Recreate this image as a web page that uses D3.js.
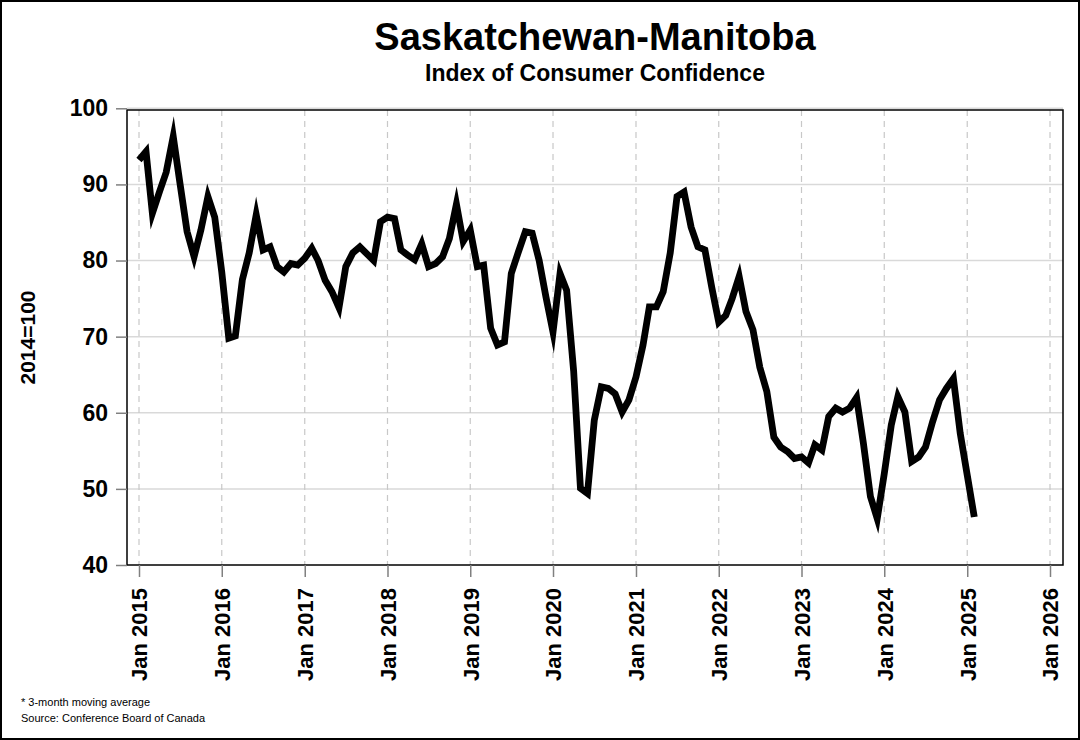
<!DOCTYPE html>
<html>
<head>
<meta charset="utf-8">
<script src="https://cdn.jsdelivr.net/npm/d3@7"></script>
<style>
html,body{margin:0;padding:0;background:#fff;}
svg{display:block;font-family:"Liberation Sans",Arial,sans-serif;}
</style>
</head>
<body>
<svg id="chart" width="1080" height="740"></svg>
<script>
// ---- data ----
const title = "Saskatchewan-Manitoba";
const subtitle = "Index of Consumer Confidence";
const yLabel = "2014=100";
const footnotes = ["* 3-month moving average", "Source: Conference Board of Canada"];
const firstMonth = "2015-01";
const values = [
  93.2, 94.3, 86.2, 89.0, 91.6, 96.3, 90.1, 83.8, 80.5, 84.0, 88.4, 85.7,
  78.5, 69.8, 70.1, 77.5, 81.0, 86.0, 81.4, 81.8, 79.2, 78.5, 79.6, 79.4,
  80.3, 81.6, 80.0, 77.4, 75.9, 73.8, 79.2, 81.0, 81.8, 80.9, 80.0, 85.1,
  85.7, 85.5, 81.4, 80.7, 80.1, 82.2, 79.2, 79.6, 80.5, 82.9, 87.4, 82.5,
  84.0, 79.2, 79.4, 71.1, 68.9, 69.3, 78.3, 81.1, 83.8, 83.6, 80.0, 75.2,
  70.6, 78.3, 76.1, 65.5, 50.1, 49.4, 59.0, 63.4, 63.2, 62.5, 60.1, 61.7,
  64.7, 68.9, 73.9, 73.9, 75.9, 81.0, 88.4, 89.0, 84.4, 81.8, 81.4, 76.5,
  71.9, 72.8, 75.0, 77.9, 73.3, 70.9, 66.0, 62.8, 56.8, 55.5, 54.9, 54.0,
  54.2, 53.4, 55.8, 55.1, 59.5, 60.6, 60.1, 60.6, 62.0, 56.0, 49.0, 46.1,
  52.0, 58.4, 62.1, 60.1, 53.6, 54.2, 55.5, 58.8, 61.7, 63.2, 64.5, 57.3,
  51.8, 46.3
];
const yTicks = [40, 50, 60, 70, 80, 90, 100];
const xTickYears = [2015, 2016, 2017, 2018, 2019, 2020, 2021, 2022, 2023, 2024, 2025, 2026];

// ---- build ----
const parseMonth = d3.timeParse("%Y-%m");
const start = parseMonth(firstMonth);
const data = values.map((v, i) => ({ date: d3.timeMonth.offset(start, i), value: v }));
const xTicks = xTickYears.map(y => new Date(y, 0, 1));

const svg = d3.select("#chart");
const W = 1080, H = 740;
const plot = { left: 127, right: 1063, top: 110, bottom: 565 };

const x = d3.scaleTime()
  .domain([new Date(2015, 0, 1), new Date(2026, 0, 1)])
  .range([139, 1050]);
const y = d3.scaleLinear().domain([40, 100]).range([565, 108.3]);

svg.append("rect").attr("x", 0).attr("y", 0).attr("width", W).attr("height", H).attr("fill", "#fff");

// horizontal grid
svg.append("g").selectAll("line").data(yTicks.filter(t => t > 40)).join("line")
  .attr("x1", plot.left).attr("x2", plot.right)
  .attr("y1", d => y(d)).attr("y2", d => y(d))
  .attr("stroke", "#d9d9d9").attr("stroke-width", 1.5);

// vertical dashed grid
svg.append("g").selectAll("line").data(xTicks).join("line")
  .attr("x1", d => x(d)).attr("x2", d => x(d))
  .attr("y1", plot.top).attr("y2", plot.bottom)
  .attr("stroke", "#c8c8c8").attr("stroke-width", 1.2).attr("stroke-dasharray", "6,5");

// plot frame
svg.append("rect").attr("x", plot.left).attr("y", plot.top)
  .attr("width", plot.right - plot.left).attr("height", plot.bottom - plot.top)
  .attr("fill", "none").attr("stroke", "#000").attr("stroke-width", 1.5);

// y axis
const yAxis = svg.append("g").attr("transform", `translate(${plot.left},0)`)
  .call(d3.axisLeft(y).tickValues(yTicks).tickSize(11).tickPadding(8).tickFormat(d3.format("d")));
yAxis.select(".domain").remove();
yAxis.selectAll(".tick line").attr("stroke", "#808080").attr("stroke-width", 1.5);
yAxis.selectAll(".tick text").attr("font-size", 23).attr("font-weight", "bold")
  .attr("fill", "#000").attr("font-family", "Liberation Sans, Arial, sans-serif");

// x axis
const xAxis = svg.append("g").attr("transform", `translate(0,${plot.bottom})`)
  .call(d3.axisBottom(x).tickValues(xTicks).tickSize(12).tickFormat(d3.timeFormat("Jan %Y")));
xAxis.select(".domain").remove();
xAxis.selectAll(".tick line").attr("stroke", "#808080").attr("stroke-width", 1.5);
xAxis.selectAll(".tick text")
  .attr("font-size", 22).attr("font-weight", "bold").attr("fill", "#000")
  .attr("font-family", "Liberation Sans, Arial, sans-serif")
  .attr("text-anchor", "end")
  .attr("transform", "rotate(-90)")
  .attr("x", -23).attr("y", 0).attr("dy", "0.36em");

// line
const line = d3.line().x(d => x(d.date)).y(d => y(d.value));
svg.append("path").datum(data)
  .attr("d", line).attr("fill", "none").attr("stroke", "#000")
  .attr("stroke-width", 6.8).attr("stroke-linejoin", "miter").attr("stroke-miterlimit", 10);

// titles
svg.append("text").attr("x", 595).attr("y", 50).attr("text-anchor", "middle")
  .attr("font-size", 38).attr("font-weight", "bold").text(title);
svg.append("text").attr("x", 595).attr("y", 81).attr("text-anchor", "middle")
  .attr("font-size", 23).attr("font-weight", "bold").text(subtitle);

// y label
svg.append("text").attr("transform", `translate(35,${(plot.top + plot.bottom) / 2}) rotate(-90)`)
  .attr("text-anchor", "middle").attr("font-size", 21).attr("font-weight", "bold").text(yLabel);

// footnotes
svg.append("g").selectAll("text").data(footnotes).join("text")
  .attr("x", 21).attr("y", (d, i) => 706 + i * 16)
  .attr("font-size", 11).attr("fill", "#000").text(d => d);

// outer border
svg.append("rect").attr("x", 1).attr("y", 1).attr("width", W - 2).attr("height", H - 2)
  .attr("fill", "none").attr("stroke", "#000").attr("stroke-width", 2);
</script>
</body>
</html>
